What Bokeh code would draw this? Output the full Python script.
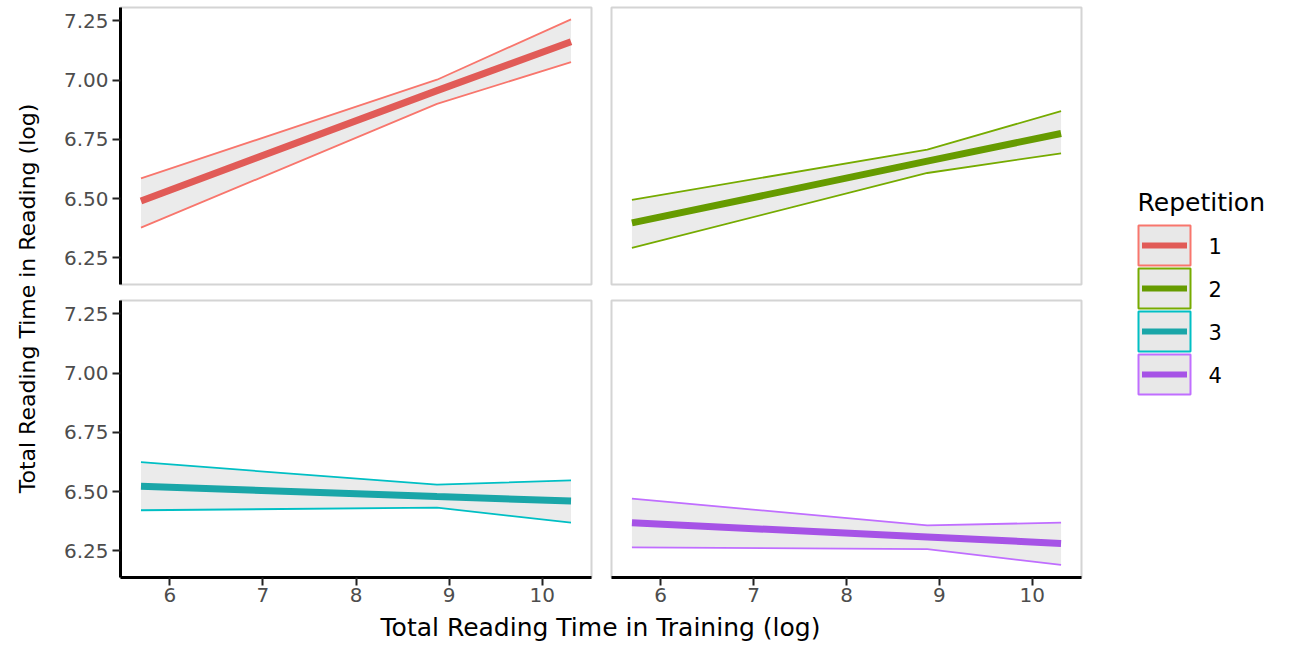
import math
from bokeh.plotting import figure
from bokeh.layouts import row, column
from bokeh.models import ColumnDataSource, FixedTicker, Range1d, PrintfTickFormatter
from bokeh.core.properties import value
from bokeh.embed import file_html
from bokeh.resources import INLINE

# ---------------- data ----------------
repetitions = ["1", "2", "3", "4"]
x_training = [5.69, 8.87, 10.31]

fit_1 = [6.490, 6.956, 7.162]
upper_1 = [6.585, 7.002, 7.257]
lower_1 = [6.377, 6.900, 7.076]

fit_2 = [6.397, 6.658, 6.775]
upper_2 = [6.494, 6.707, 6.869]
lower_2 = [6.292, 6.608, 6.691]

fit_3 = [6.522, 6.479, 6.460]
upper_3 = [6.624, 6.529, 6.547]
lower_3 = [6.421, 6.432, 6.369]

fit_4 = [6.368, 6.308, 6.281]
upper_4 = [6.470, 6.357, 6.369]
lower_4 = [6.264, 6.257, 6.190]

y_ticks = [6.25, 6.50, 6.75, 7.00, 7.25]
x_ticks = [6, 7, 8, 9, 10]

x_title = "Total Reading Time in Training (log)"
y_title = "Total Reading Time in Reading (log)"
legend_title = "Repetition"

fits = [fit_1, fit_2, fit_3, fit_4]
uppers = [upper_1, upper_2, upper_3, upper_4]
lowers = [lower_1, lower_2, lower_3, lower_4]

# ---------------- style ----------------
FONT = "DejaVu Sans"
line_colors = ["#E15B57", "#669B00", "#1AA6A8", "#A653E6"]
edge_colors = ["#F8766D", "#76AB00", "#00BFC4", "#C06EFF"]
ribbon_fill = "#EBEBEB"
border_col = "#D4D4D4"

X_RANGE = (5.47, 10.53)
Y_RANGE = (6.137, 7.307)
FRAME_H = 277


def panel(i, show_x, show_y, fw, mbl, mbr, mbt, mbb):
    p = figure(
        frame_width=fw, frame_height=FRAME_H,
        x_range=Range1d(*X_RANGE), y_range=Range1d(*Y_RANGE),
        x_axis_location="below" if show_x else None,
        y_axis_location="left" if show_y else None,
        output_backend="svg", toolbar_location=None,
        min_border_left=mbl, min_border_right=mbr,
        min_border_top=mbt, min_border_bottom=mbb,
    )
    p.xgrid.visible = False
    p.ygrid.visible = False
    p.outline_line_color = border_col
    p.outline_line_width = 2
    p.background_fill_color = "white"
    p.border_fill_color = "white"
    src = ColumnDataSource(dict(x=x_training, fit=fits[i], up=uppers[i], lo=lowers[i]))
    p.varea(x="x", y1="lo", y2="up", source=src, fill_color=ribbon_fill)
    p.line(x="x", y="up", source=src, line_color=edge_colors[i], line_width=1.8)
    p.line(x="x", y="lo", source=src, line_color=edge_colors[i], line_width=1.8)
    p.line(x="x", y="fit", source=src, line_color=line_colors[i], line_width=7)
    for ax in p.axis:
        ax.axis_line_color = "black"
        ax.axis_line_width = 3
        ax.major_tick_line_color = "#222222"
        ax.major_tick_line_width = 2
        ax.major_tick_in = 0
        ax.minor_tick_line_color = None
        ax.major_label_text_font = FONT
        ax.major_label_text_font_size = "20px"
        ax.major_label_text_color = "#4D4D4D"
        ax.axis_label_standoff = 0
    if show_y:
        p.yaxis.ticker = FixedTicker(ticks=y_ticks)
        p.yaxis.formatter = PrintfTickFormatter(format="%.2f")
        p.yaxis.major_tick_out = 8
        p.yaxis.major_label_standoff = 4
    if show_x:
        p.xaxis.ticker = FixedTicker(ticks=x_ticks)
        p.xaxis.major_tick_out = 8
        p.xaxis.major_label_standoff = 2
    return p


tl = panel(0, False, True, 471, 70, 10, 7, 9)
tr = panel(1, False, False, 470, 10, 19, 7, 9)
bl = panel(2, True, True, 471, 70, 10, 7, 34)
br = panel(3, True, False, 470, 10, 19, 7, 34)

# y title strip
yt = figure(width=50, height=645, x_range=Range1d(0, 50), y_range=Range1d(645, 0),
            output_backend="svg", toolbar_location=None,
            x_axis_location=None, y_axis_location=None, min_border=0)
yt.xgrid.visible = False
yt.ygrid.visible = False
yt.outline_line_color = None
yt.text(x=[27], y=[298], text=[y_title], angle=math.pi / 2,
        text_align="center", text_baseline="middle",
        text_font=value(FONT), text_font_size="22px", text_color="black")

# x title strip (local coordinates: 0 = top of strip)
xt = figure(width=1050, height=32, x_range=Range1d(50, 1100), y_range=Range1d(32, 0),
            output_backend="svg", toolbar_location=None,
            x_axis_location=None, y_axis_location=None, min_border=0)
xt.xgrid.visible = False
xt.ygrid.visible = False
xt.outline_line_color = None
xt.text(x=[600], y=[1], text=[x_title], text_align="center", text_baseline="top",
        text_font=value(FONT), text_font_size="25px", text_color="black")

# legend figure
lg = figure(width=201, height=645, x_range=Range1d(1100, 1301), y_range=Range1d(645, 0),
            output_backend="svg", toolbar_location=None,
            x_axis_location=None, y_axis_location=None, min_border=0)
lg.xgrid.visible = False
lg.ygrid.visible = False
lg.outline_line_color = None
key_y0, key_step = 245, 43
key_ys = [key_y0 + k * key_step for k in range(len(repetitions))]
lsrc = ColumnDataSource(dict(y=key_ys, lab=repetitions, lc=line_colors, ec=edge_colors))
lg.rect(x=1164, y="y", width=52, height=40, source=lsrc,
        fill_color="#E8E8E8", line_color="ec", line_width=2)
lg.rect(x=1164, y="y", width=45, height=6, source=lsrc, fill_color="lc", line_color=None)
lg.text(x=1208, y="y", text="lab", source=lsrc, text_align="left", text_baseline="middle",
        text_font=value(FONT), text_font_size="21px", text_color="black")
lg.text(x=[1137], y=[202], text=[legend_title], text_align="left", text_baseline="middle",
        text_font=value(FONT), text_font_size="25px", text_color="black")

layout = row(yt, column(row(tl, tr), row(bl, br), xt), lg)

open("out.html", "w").write(file_html(layout, INLINE))
